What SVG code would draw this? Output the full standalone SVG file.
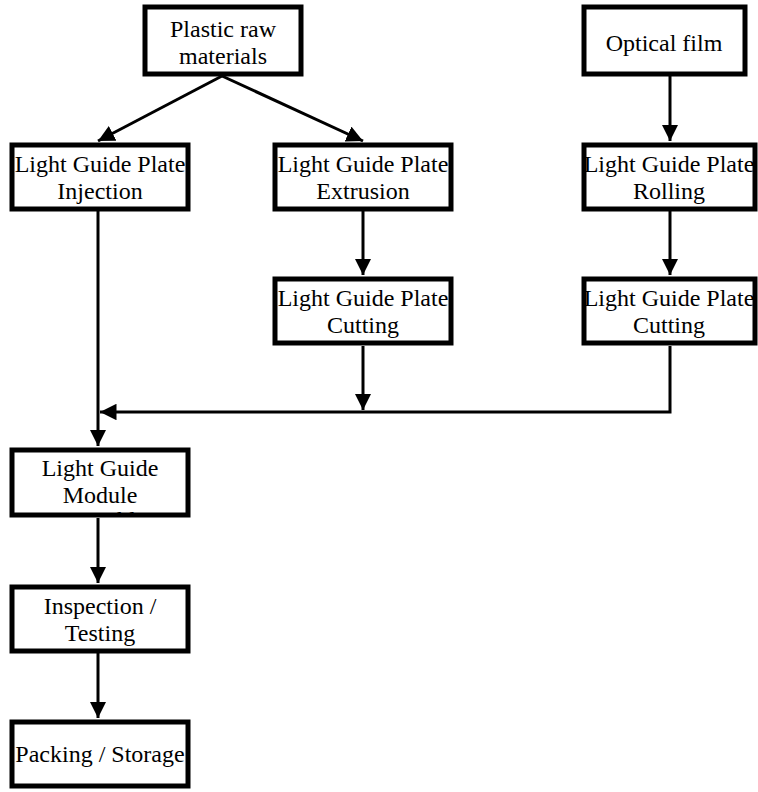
<svg xmlns="http://www.w3.org/2000/svg" width="758" height="792" viewBox="0 0 758 792">
<style>
.box{fill:#fff;stroke:#000;stroke-width:5}
.t{font-family:"Liberation Serif","Times New Roman",serif;font-size:24px;fill:#000;text-anchor:middle}
.c{fill:none;stroke:#000;stroke-width:3}
</style>
<defs>
<marker id="ah" viewBox="0 0 10 10" refX="10" refY="5" markerWidth="5.5" markerHeight="5.5" orient="auto" markerUnits="strokeWidth">
<path d="M0,0 L10,5 L0,10 Z" fill="#000"/>
</marker>
<clipPath id="clipMod"><rect x="12" y="450" width="176" height="65"/></clipPath>
</defs>
<rect width="758" height="792" fill="#fff"/>
<g id="connectors">
<line class="c" x1="222" y1="76" x2="98" y2="141" marker-end="url(#ah)"/>
<line class="c" x1="222" y1="76" x2="363" y2="141" marker-end="url(#ah)"/>
<line class="c" x1="670" y1="76" x2="670" y2="141" marker-end="url(#ah)"/>
<line class="c" x1="363" y1="211" x2="363" y2="275" marker-end="url(#ah)"/>
<line class="c" x1="670" y1="211" x2="670" y2="275" marker-end="url(#ah)"/>
<line class="c" x1="363" y1="346" x2="363" y2="410" marker-end="url(#ah)"/>
<polyline class="c" points="670,346 670,412 100,412" marker-end="url(#ah)"/>
<line class="c" x1="98" y1="211" x2="98" y2="446" marker-end="url(#ah)"/>
<line class="c" x1="98" y1="518" x2="98" y2="583" marker-end="url(#ah)"/>
<line class="c" x1="98" y1="653" x2="98" y2="718" marker-end="url(#ah)"/>
</g>
<g id="n-plastic">
<rect class="box" x="145" y="7" width="156" height="67"/>
<text class="t" x="223" y="37">Plastic raw</text>
<text class="t" x="223" y="64">materials</text>
</g>
<g id="n-optical">
<rect class="box" x="584" y="7" width="161" height="67"/>
<text class="t" x="664" y="51">Optical film</text>
</g>
<g id="n-injection">
<rect class="box" x="12" y="145" width="176" height="64"/>
<text class="t" x="100" y="172">Light Guide Plate</text>
<text class="t" x="100" y="199">Injection</text>
</g>
<g id="n-extrusion">
<rect class="box" x="275" y="145" width="176" height="64"/>
<text class="t" x="363" y="172">Light Guide Plate</text>
<text class="t" x="363" y="199">Extrusion</text>
</g>
<g id="n-rolling">
<rect class="box" x="584" y="145" width="171" height="64"/>
<text class="t" x="669" y="172">Light Guide Plate</text>
<text class="t" x="669" y="199">Rolling</text>
</g>
<g id="n-cut1">
<rect class="box" x="275" y="279" width="176" height="64"/>
<text class="t" x="363" y="306">Light Guide Plate</text>
<text class="t" x="363" y="333">Cutting</text>
</g>
<g id="n-cut2">
<rect class="box" x="584" y="279" width="171" height="64"/>
<text class="t" x="669" y="306">Light Guide Plate</text>
<text class="t" x="669" y="333">Cutting</text>
</g>
<g id="n-module">
<rect class="box" x="12" y="450" width="176" height="65"/>
<g clip-path="url(#clipMod)">
<text class="t" x="100" y="476">Light Guide</text>
<text class="t" x="100" y="503">Module</text>
<text class="t" x="100" y="528">Assembly</text>
</g>
</g>
<g id="n-inspection">
<rect class="box" x="12" y="587" width="176" height="64"/>
<text class="t" x="100" y="614">Inspection /</text>
<text class="t" x="100" y="641">Testing</text>
</g>
<g id="n-packing">
<rect class="box" x="12" y="722" width="176" height="64"/>
<text class="t" x="100" y="762">Packing / Storage</text>
</g>
</svg>
